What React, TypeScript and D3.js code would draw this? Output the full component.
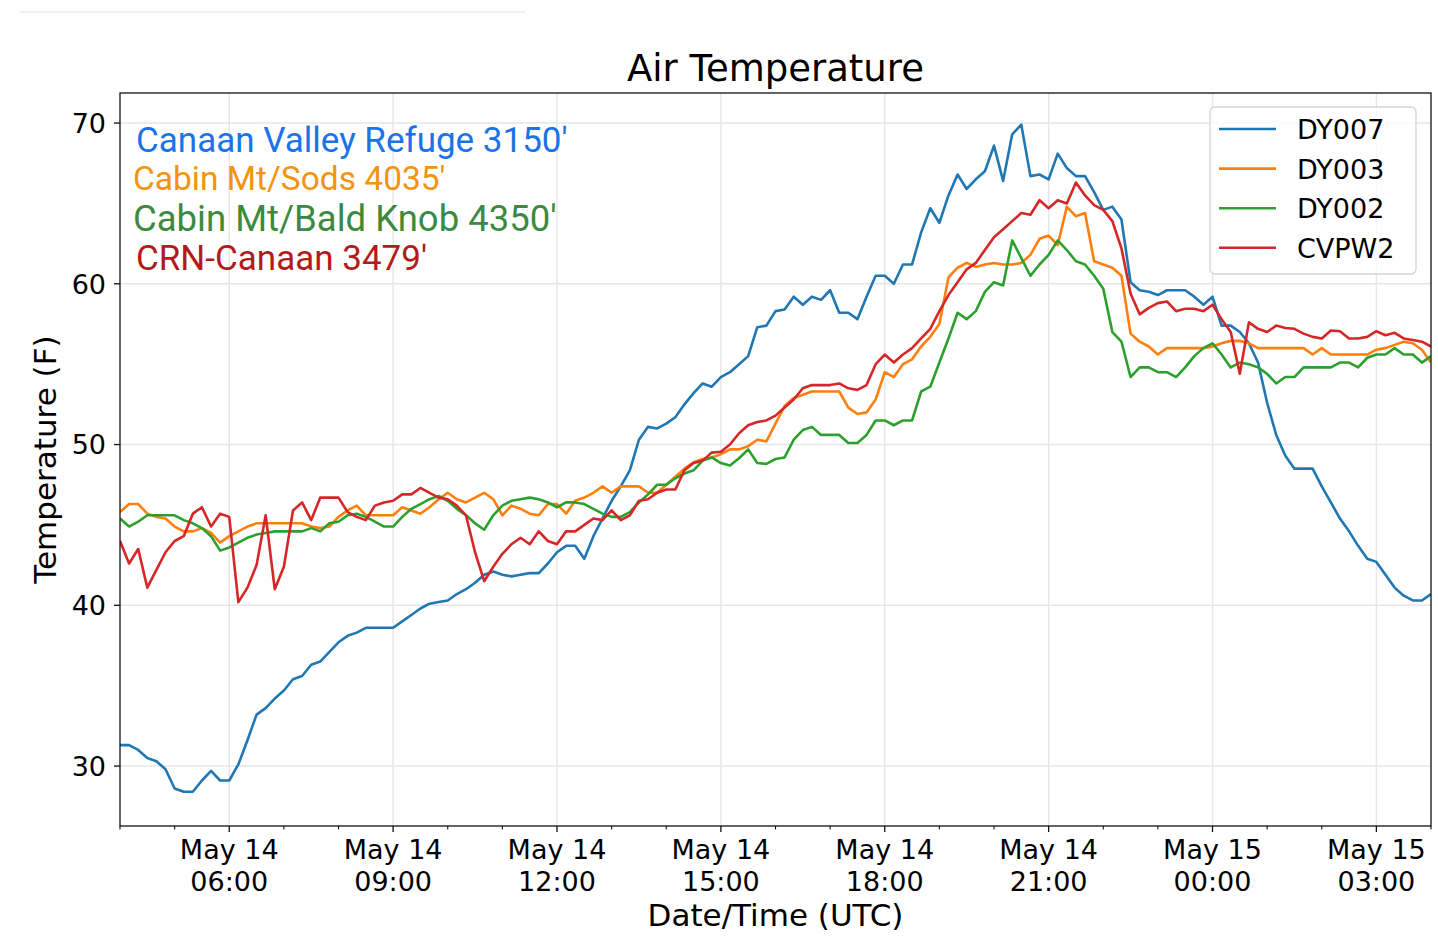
import { useRef, useEffect } from 'react';
import * as d3 from 'd3';

// 10-minute observations, May 14 04:00 UTC to May 15 04:00 UTC
const startTime = Date.UTC(2019, 4, 14, 4, 0);
const stepMinutes = 10;

const dy007 = [
    31.3, 31.3, 31.0, 30.5, 30.3, 29.8, 28.6, 28.4, 28.4, 29.1,
    29.7, 29.1, 29.1, 30.1, 31.6, 33.2, 33.6, 34.2, 34.7, 35.4,
    35.6, 36.3, 36.5, 37.1, 37.7, 38.1, 38.3, 38.6, 38.6, 38.6,
    38.6, 39.0, 39.4, 39.8, 40.1, 40.2, 40.3, 40.7, 41.0, 41.4,
    41.9, 42.1, 41.9, 41.8, 41.9, 42.0, 42.0, 42.6, 43.3, 43.7,
    43.7, 42.9, 44.3, 45.4, 46.5, 47.4, 48.4, 50.3, 51.1, 51.0,
    51.3, 51.7, 52.5, 53.2, 53.8, 53.6, 54.2, 54.5, 55.0, 55.5,
    57.3, 57.4, 58.3, 58.4, 59.2, 58.7, 59.2, 59.0, 59.6, 58.2,
    58.2, 57.8, 59.2, 60.5, 60.5, 60.0, 61.2, 61.2, 63.2, 64.7,
    63.8, 65.5, 66.8, 65.9, 66.5, 67.0, 68.6, 66.4, 69.3, 69.9,
    66.7, 66.8, 66.5, 68.1, 67.2, 66.7, 66.7, 65.7, 64.6, 64.8,
    64.0, 60.1, 59.6, 59.5, 59.3, 59.6, 59.6, 59.6, 59.2, 58.7,
    59.2, 57.4, 57.4, 57.0, 56.3, 55.1, 52.6, 50.6, 49.3, 48.5,
    48.5, 48.5, 47.4, 46.4, 45.4, 44.6, 43.7, 42.9, 42.7, 41.9,
    41.1, 40.6, 40.3, 40.3, 40.7,
];

const dy003 = [
    45.8, 46.3, 46.3, 45.7, 45.5, 45.4, 44.9, 44.6, 44.6, 44.8,
    44.5, 43.9, 44.3, 44.6, 44.9, 45.1, 45.1, 45.1, 45.1, 45.1,
    45.1, 44.9, 44.8, 44.9, 45.5, 45.9, 46.2, 45.6, 45.6, 45.6,
    45.6, 46.1, 45.9, 45.7, 46.1, 46.6, 47.0, 46.6, 46.4, 46.7,
    47.0, 46.6, 45.6, 46.2, 46.0, 45.7, 45.6, 46.3, 46.3, 45.7,
    46.5, 46.7, 47.0, 47.4, 47.0, 47.4, 47.4, 47.4, 47.0, 47.0,
    47.5, 48.0, 48.5, 48.9, 49.1, 49.2, 49.4, 49.7, 49.7, 49.9,
    50.3, 50.2, 51.3, 52.4, 52.9, 53.1, 53.3, 53.3, 53.3, 53.3,
    52.3, 51.9, 52.0, 52.8, 54.5, 54.2, 55.0, 55.3, 56.1, 56.7,
    57.5, 60.4, 61.0, 61.3, 61.05, 61.2, 61.3, 61.2, 61.2, 61.3,
    61.8, 62.8, 63.0, 62.4, 64.8, 64.2, 64.4, 61.4, 61.2, 61.0,
    60.5, 56.9, 56.4, 56.1, 55.6, 56.0, 56.0, 56.0, 56.0, 56.0,
    56.1, 56.3, 56.45, 56.45, 56.3, 56.0, 56.0, 56.0, 56.0, 56.0,
    56.0, 55.6, 56.0, 55.6, 55.6, 55.6, 55.6, 55.6, 55.9, 56.0,
    56.2, 56.4, 56.3, 55.9, 55.1,
];

const dy002 = [
    45.4, 44.9, 45.2, 45.6, 45.6, 45.6, 45.6, 45.3, 45.1, 44.8,
    44.3, 43.4, 43.6, 43.9, 44.2, 44.4, 44.5, 44.6, 44.6, 44.6,
    44.6, 44.8, 44.6, 45.1, 45.2, 45.6, 45.7, 45.5, 45.2, 44.9,
    44.9, 45.5, 46.0, 46.3, 46.6, 46.8, 46.5, 46.0, 45.6, 45.1,
    44.7, 45.6, 46.2, 46.5, 46.6, 46.7, 46.6, 46.4, 46.1, 46.4,
    46.4, 46.3, 46.0, 45.7, 45.5, 45.5, 45.8, 46.4, 46.9, 47.5,
    47.5, 47.9, 48.2, 48.4, 49.0, 49.2, 48.85, 48.7, 49.15, 49.7,
    48.85, 48.8, 49.1, 49.2, 50.3, 50.9, 51.1, 50.6, 50.6, 50.6,
    50.1, 50.1, 50.6, 51.5, 51.5, 51.2, 51.5, 51.5, 53.3, 53.6,
    55.1, 56.6, 58.2, 57.8, 58.3, 59.5, 60.1, 59.9, 62.7, 61.6,
    60.5, 61.2, 61.8, 62.7, 62.1, 61.4, 61.2, 60.5, 59.7, 57.0,
    56.4, 54.2, 54.8, 54.8, 54.5, 54.5, 54.2, 54.8, 55.5, 56.0,
    56.3, 55.6, 54.8, 55.1, 55.0, 54.8, 54.4, 53.8, 54.2, 54.2,
    54.8, 54.8, 54.8, 54.8, 55.1, 55.1, 54.8, 55.4, 55.6, 55.6,
    56.0, 55.6, 55.6, 55.1, 55.5,
];

const cvpw2 = [
    44.0, 42.6, 43.5, 41.1, 42.2, 43.3, 44.0, 44.3, 45.7, 46.1,
    44.9, 45.7, 45.5, 40.2, 41.1, 42.5, 45.6, 41.0, 42.4, 45.9,
    46.4, 45.3, 46.7, 46.7, 46.7, 45.8, 45.5, 45.3, 46.2, 46.4,
    46.5, 46.9, 46.9, 47.3, 47.0, 46.7, 46.6, 46.2, 45.6, 43.3,
    41.5, 42.4, 43.2, 43.8, 44.2, 43.8, 44.6, 44.0, 43.8, 44.6,
    44.6, 45.0, 45.4, 45.3, 45.9, 45.3, 45.6, 46.5, 46.6, 47.0,
    47.2, 47.2, 48.4, 48.85, 49.0, 49.5, 49.55, 50.0, 50.7, 51.2,
    51.4, 51.5, 51.8, 52.3, 52.8, 53.5, 53.7, 53.7, 53.7, 53.8,
    53.5, 53.4, 53.7, 55.0, 55.6, 55.1, 55.6, 56.0, 56.6, 57.2,
    58.3, 59.3, 60.1, 60.9, 61.3, 62.1, 62.9, 63.4, 63.9, 64.4,
    64.3, 65.2, 64.7, 65.2, 65.0, 66.3, 65.5, 64.9, 64.6, 63.9,
    62.2, 59.4, 58.1, 58.5, 58.8, 58.9, 58.3, 58.45, 58.45, 58.3,
    58.7, 57.8, 57.0, 54.4, 57.6, 57.2, 57.0, 57.4, 57.25, 57.2,
    56.9, 56.7, 56.6, 57.1, 57.05, 56.6, 56.6, 56.7, 57.05, 56.8,
    56.95, 56.6, 56.5, 56.4, 56.1,
];

const seriesNames = ['DY007', 'DY003', 'DY002', 'CVPW2'];
const seriesValues = [dy007, dy003, dy002, cvpw2];
const seriesColors = ['#1f77b4', '#ff7f0e', '#2ca02c', '#d62728'];

const stationLabels = ["Canaan Valley Refuge 3150'", "Cabin Mt/Sods 4035'", "Cabin Mt/Bald Knob 4350'", "CRN-Canaan 3479'"];
const stationColors = ['#1a73e8', '#f29411', '#3b8a3e', '#b31b1b'];

const yTicks = [30, 40, 50, 60, 70];
const yDomain = [26.27, 71.87];

const times = dy007.map((_, i) => new Date(startTime + i * stepMinutes * 60000));

const FONT = "'DejaVu Sans', sans-serif";

export default function App() {
    const ref = useRef<SVGSVGElement>(null);

    useEffect(() => {
        if (!ref.current) return;

        const svg = d3.select(ref.current);
        svg.selectAll("*").remove();

        const width = 1438;
        const height = 944;
        const margin = { top: 93, right: 7, bottom: 118, left: 120 };
        const innerWidth = width - margin.left - margin.right;
        const innerHeight = height - margin.top - margin.bottom;

        const xScale = d3.scaleUtc()
            .domain([times[0], times[times.length - 1]])
            .range([0, innerWidth]);

        const yScale = d3.scaleLinear()
            .domain(yDomain)
            .range([innerHeight, 0]);

        const majorTicks = d3.utcHour.every(3)!.range(times[0], times[times.length - 1]);
        const minorTicks = d3.utcHour.every(1)!.range(times[0], new Date(+times[times.length - 1] + 1))
            .filter(t => t.getUTCHours() % 3 !== 0);

        // faint rule at the top of the page
        svg.append('line')
            .attr('x1', 20).attr('x2', 525)
            .attr('y1', 12).attr('y2', 12)
            .attr('stroke', '#ededed')
            .attr('stroke-width', 1.5);

        svg.append('text')
            .attr('x', margin.left + innerWidth / 2)
            .attr('y', 81)
            .attr('text-anchor', 'middle')
            .style('font-family', FONT)
            .style('font-size', '37px')
            .style('fill', '#000')
            .text('Air Temperature');

        const g = svg.append('g')
            .attr('transform', `translate(${margin.left}, ${margin.top})`);

        svg.append('defs').append('clipPath')
            .attr('id', 'plot-clip')
            .append('rect')
            .attr('width', innerWidth)
            .attr('height', innerHeight);

        // grid
        g.selectAll('.vgrid')
            .data(majorTicks)
            .join('line')
            .attr('x1', d => xScale(d)).attr('x2', d => xScale(d))
            .attr('y1', 0).attr('y2', innerHeight)
            .attr('stroke', '#e6e6e6')
            .attr('stroke-width', 1.4);

        g.selectAll('.hgrid')
            .data(yTicks)
            .join('line')
            .attr('x1', 0).attr('x2', innerWidth)
            .attr('y1', d => yScale(d)).attr('y2', d => yScale(d))
            .attr('stroke', '#e6e6e6')
            .attr('stroke-width', 1.4);

        const line = d3.line<number>()
            .x((_, i) => xScale(times[i]))
            .y(d => yScale(d));

        const lines = g.append('g').attr('clip-path', 'url(#plot-clip)');
        seriesValues.forEach((values, i) => {
            lines.append('path')
                .datum(values)
                .attr('d', line)
                .attr('fill', 'none')
                .attr('stroke', seriesColors[i])
                .attr('stroke-width', 2.6)
                .attr('stroke-linejoin', 'round');
        });

        // spines
        g.append('rect')
            .attr('width', innerWidth)
            .attr('height', innerHeight)
            .attr('fill', 'none')
            .attr('stroke', '#111')
            .attr('stroke-width', 1.3);

        // x ticks
        g.selectAll('.xmajor')
            .data(majorTicks)
            .join('line')
            .attr('x1', d => xScale(d)).attr('x2', d => xScale(d))
            .attr('y1', innerHeight).attr('y2', innerHeight + 6)
            .attr('stroke', '#111')
            .attr('stroke-width', 1.3);

        g.selectAll('.xminor')
            .data(minorTicks)
            .join('line')
            .attr('x1', d => xScale(d)).attr('x2', d => xScale(d))
            .attr('y1', innerHeight).attr('y2', innerHeight + 3.5)
            .attr('stroke', '#111')
            .attr('stroke-width', 1.1);

        const fmtDay = d3.utcFormat('%b %d');
        const fmtTime = d3.utcFormat('%H:%M');
        const xLabels = g.selectAll('.xlabel')
            .data(majorTicks)
            .join('text')
            .attr('text-anchor', 'middle')
            .style('font-family', FONT)
            .style('font-size', '27px')
            .style('fill', '#000');
        xLabels.append('tspan')
            .attr('x', d => xScale(d))
            .attr('y', innerHeight + 33)
            .text(d => fmtDay(d));
        xLabels.append('tspan')
            .attr('x', d => xScale(d))
            .attr('y', innerHeight + 65)
            .text(d => fmtTime(d));

        // y ticks
        g.selectAll('.ytick')
            .data(yTicks)
            .join('line')
            .attr('x1', -6).attr('x2', 0)
            .attr('y1', d => yScale(d)).attr('y2', d => yScale(d))
            .attr('stroke', '#111')
            .attr('stroke-width', 1.3);

        g.selectAll('.ylabel')
            .data(yTicks)
            .join('text')
            .attr('x', -14)
            .attr('y', d => yScale(d))
            .attr('dy', '0.36em')
            .attr('text-anchor', 'end')
            .style('font-family', FONT)
            .style('font-size', '27px')
            .style('fill', '#000')
            .text(d => d);

        // axis titles
        g.append('text')
            .attr('x', innerWidth / 2)
            .attr('y', innerHeight + 100)
            .attr('text-anchor', 'middle')
            .style('font-family', FONT)
            .style('font-size', '31px')
            .style('fill', '#000')
            .text('Date/Time (UTC)');

        g.append('text')
            .attr('transform', 'rotate(-90)')
            .attr('x', -innerHeight / 2)
            .attr('y', -64)
            .attr('text-anchor', 'middle')
            .style('font-family', FONT)
            .style('font-size', '31px')
            .style('fill', '#000')
            .text('Temperature (F)');

        // legend
        const legend = svg.append('g').attr('transform', 'translate(1210, 107)');
        legend.append('rect')
            .attr('width', 206)
            .attr('height', 167)
            .attr('rx', 5)
            .attr('fill', '#fff')
            .attr('fill-opacity', 0.8)
            .attr('stroke', '#d5d5d5')
            .attr('stroke-width', 1.3);
        seriesNames.forEach((name, i) => {
            const ly = 22 + i * 39.6;
            legend.append('line')
                .attr('x1', 9).attr('x2', 66)
                .attr('y1', ly).attr('y2', ly)
                .attr('stroke', seriesColors[i])
                .attr('stroke-width', 2.6);
            legend.append('text')
                .attr('x', 87)
                .attr('y', ly + 10)
                .style('font-family', FONT)
                .style('font-size', '27px')
                .style('fill', '#000')
                .text(name);
        });

        // station annotations
        const labelPos = [[136, 152], [133, 190], [133, 231], [136, 270]];
        const labelSize = [35, 33.5, 36.5, 35];
        stationLabels.forEach((label, i) => {
            svg.append('text')
                .attr('x', labelPos[i][0])
                .attr('y', labelPos[i][1])
                .style('font-family', "Roboto, sans-serif")
                .style('font-size', `${labelSize[i]}px`)
                .style('fill', stationColors[i])
                .text(label);
        });
    }, []);

    return (
        <svg ref={ref} width={1438} height={944}
            style={{ position: 'absolute', left: 0, top: 0, background: '#fff' }} />
    );
}
